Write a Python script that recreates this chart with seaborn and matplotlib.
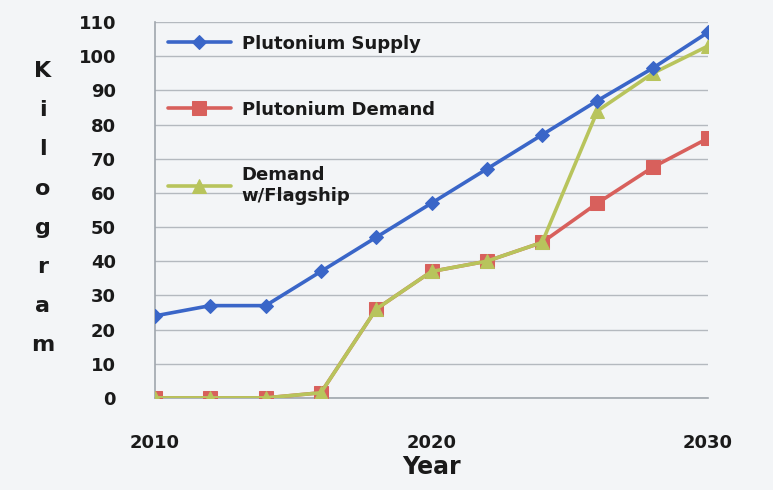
import matplotlib
matplotlib.use("Agg")
import matplotlib.pyplot as plt
import seaborn as sns
import pandas as pd

years = [2010, 2012, 2014, 2016, 2018, 2020, 2022, 2024, 2026, 2028, 2030]
supply = [24, 27, 27, 37, 47, 57, 67, 77, 87, 96.5, 107]
demand = [0, 0, 0, 1.5, 26, 37, 40, 45.5, 57, 67.5, 76]
flagship = [0, 0, 0, 1.5, 26, 37, 40, 45.5, 84, 95, 103]
series_names = ["Plutonium Supply", "Plutonium Demand", "Demand\nw/Flagship"]
y_ticks = list(range(0, 111, 10))
x_ticks = [2010, 2020, 2030]

sns.set_style("white")
plt.rcParams['font.family'] = ['DejaVu Sans']

fig = plt.figure(figsize=(7.73, 4.90), dpi=100)
fig.patch.set_facecolor("#f3f5f7")
ax = fig.add_axes([0.2005, 0.188, 0.7155, 0.767])
ax.set_facecolor("#f3f5f7")

styles = [
    (supply, "#3a66c8", "D", 7, 2.6),
    (demand, "#d8605c", "s", 10, 2.6),
    (flagship, "#b8c45c", "^", 10, 2.6),
]
order = [1, 2, 0]
for i in order:
    vals, col, mk, ms, lw = styles[i]
    df = pd.DataFrame({"Year": years, "kg": vals})
    sns.lineplot(data=df, x="Year", y="kg", ax=ax, color=col, marker=mk,
                 markersize=ms, linewidth=lw, markeredgecolor=col,
                 label=series_names[i], zorder=3 + (i == 0))

ax.set_xlim(2010, 2030)
ax.set_ylim(0, 110)
ax.set_yticks(y_ticks)
ax.set_xticks(x_ticks)
ax.yaxis.grid(True, color="#b4b9bf", linewidth=1)
ax.set_axisbelow(True)
for s in ["top", "right"]:
    ax.spines[s].set_visible(False)
for s in ["left", "bottom"]:
    ax.spines[s].set_color("#a0a6ad")
    ax.spines[s].set_linewidth(1.2)
ax.tick_params(axis="y", length=0, pad=28, labelsize=13, labelcolor="#1a1a1a")
ax.tick_params(axis="x", length=4, color="#a0a6ad", pad=22, labelsize=13, labelcolor="#1a1a1a")
for lab in ax.get_xticklabels() + ax.get_yticklabels():
    lab.set_fontweight("bold")

ax.set_xlabel("Year", fontsize=17, fontweight="bold", color="#1a1a1a", labelpad=2)
ax.set_ylabel("")
fig.text(0.055, 0.575, "\n".join("Kilogram"), ha="center", va="center",
         fontsize=16, fontweight="bold", color="#1a1a1a", linespacing=2.2)

h, l = ax.get_legend_handles_labels()
hd = dict(zip(l, h))
leg = ax.legend([hd[n] for n in series_names], series_names, loc="upper left",
                bbox_to_anchor=(0.0, 1.0), frameon=False, handlelength=3.5,
                labelspacing=2.65, handletextpad=0.6, borderaxespad=0.3,
                prop={"size": 13, "weight": "bold"})
for t in leg.get_texts():
    t.set_color("#1a1a1a")

fig.savefig("out.png", dpi=100, facecolor=fig.get_facecolor())
